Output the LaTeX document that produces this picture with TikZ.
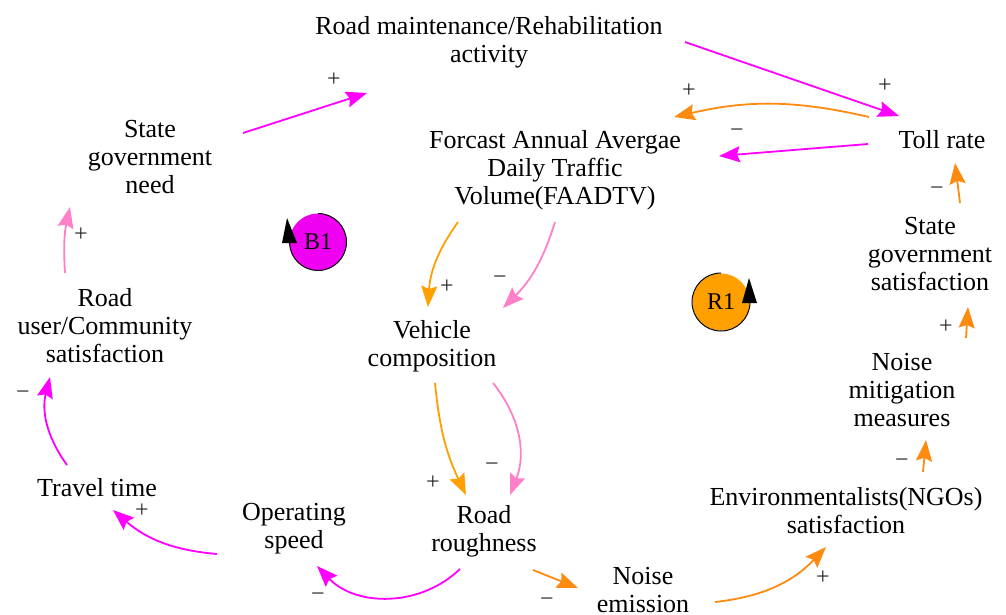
\documentclass[tikz,border=0pt]{standalone}
\usepackage{fontspec}
\setmainfont{Liberation Serif}
\usetikzlibrary{arrows.meta}
\definecolor{mag}{HTML}{FF00FF}
\definecolor{org}{HTML}{FF8A10}
\definecolor{orl}{HTML}{FFA000}
\definecolor{pnk}{HTML}{FF80C8}
\definecolor{loopor}{HTML}{FF9F00}
\definecolor{loopmg}{HTML}{F000F0}
\begin{document}
\begin{tikzpicture}[x=1pt,y=-1pt,
  var/.style={align=center, inner sep=0pt, font=\fontsize{26}{28}\selectfont},
  polarity/.style={inner sep=0pt, text=black!85, font=\fontsize{24}{24}\selectfont},
  link/.style={line width=1.8pt, -{Stealth[length=21pt,width=16pt,inset=3pt]}},
  loopc/.style={circle, minimum size=57pt, inner sep=0pt, font=\fontsize{24}{24}\selectfont},
  loopedge/.style={line width=1pt, black}]
\useasboundingbox (0,0) rectangle (1006,614);

% variables
\node[var] (rm)   at (489,42)  {Road maintenance/Rehabilitation\\activity};
\node[var] (toll) at (942,140) {Toll rate};
\node[var] (fa)   at (555,170) {Forcast Annual Avergae\\Daily Traffic\\Volume(FAADTV)};
\node[var] (sgn)  at (150,157) {State\\government\\need};
\node[var] (sgs)  at (930,254) {State\\government\\satisfaction};
\node[var] (ruc)  at (105,326) {Road\\user/Community\\satisfaction};
\node[var] (vc)   at (432,346) {Vehicle\\composition};
\node[var] (nmm)  at (902,390) {Noise\\mitigation\\measures};
\node[var] (tt)   at (97,488)  {Travel time};
\node[var] (os)   at (294,529) {Operating\\speed};
\node[var] (rr)   at (484,531) {Road\\roughness};
\node[var] (env)  at (846,511) {Environmentalists(NGOs)\\satisfaction};
\node[var] (ne)   at (643,590) {Noise\\emission};

% loop markers
\node[loopc, fill=loopmg] (b1) at (318,242) {B1};
\draw[loopedge] ([shift={(0,-28.5)}]b1.center) arc[start angle=-90, end angle=178, radius=28.5];
\fill[black] ([shift={(-36,1)}]b1.center) -- ([shift={(-21,1)}]b1.center) -- ([shift={(-31,-24)}]b1.center) -- cycle;

\node[loopc, fill=loopor] (r1) at (721,302) {R1};
\draw[loopedge] ([shift={(0,-29)}]r1.center) arc[start angle=-90, end angle=-358, radius=29];
\fill[black] ([shift={(21,1)}]r1.center) -- ([shift={(36,1)}]r1.center) -- ([shift={(28,-24)}]r1.center) -- cycle;

% causal links
\draw[link, mag] ([shift={(93,-24)}]sgn.center) -- ([shift={(-122,51)}]rm.center);
\draw[link, mag] ([shift={(196,0)}]rm.center) -- ([shift={(-43,-24)}]toll.center);
\draw[link, org] ([shift={(-73,-23)}]toll.center) to[bend right=13] ([shift={(119,-53)}]fa.center);
\draw[link, mag] ([shift={(-74,4)}]toll.center) -- ([shift={(164,-14)}]fa.center);
\draw[link, org] ([shift={(30,-51)}]sgs.center) -- ([shift={(13,23)}]toll.center);
\draw[link, org] ([shift={(64,-52)}]nmm.center) -- ([shift={(38,53)}]sgs.center);
\draw[link, org] ([shift={(77,-39)}]env.center) -- ([shift={(24,50)}]nmm.center);
\draw[link, org] ([shift={(72,12)}]ne.center) to[bend right=20] ([shift={(-20,36)}]env.center);
\draw[link, org] ([shift={(49,39)}]rr.center) -- ([shift={(-65,-2)}]ne.center);
\draw[link, mag] ([shift={(-24,38)}]rr.center) to[bend left=45] ([shift={(23,37)}]os.center);
\draw[link, mag] ([shift={(-77,25)}]os.center) to[bend left=18] ([shift={(16,22)}]tt.center);
\draw[link, mag] ([shift={(-30,-23)}]tt.center) to[bend left=25] ([shift={(-55,51)}]ruc.center);
\draw[link, pnk] ([shift={(-40,-53)}]ruc.center) to[bend left=8] ([shift={(-80,50)}]sgn.center);
\draw[link, orl] ([shift={(-97,52)}]fa.center) to[bend right=16] ([shift={(-4,-39)}]vc.center);
\draw[link, pnk] ([shift={(0,52)}]fa.center) to[bend left=14] ([shift={(71,-38)}]vc.center);
\draw[link, orl] ([shift={(3,37)}]vc.center) to[bend right=10] ([shift={(-18,-36)}]rr.center);
\draw[link, pnk] ([shift={(61,37)}]vc.center) to[bend left=30] ([shift={(26,-36)}]rr.center);

% link polarities
\node[polarity] (p1)  at (334,80)  {+};
\node[polarity] (p2)  at (885,86)  {+};
\node[polarity] (p3)  at (689,91)  {+};
\node[polarity] (m4)  at (737,133) {−};
\node[polarity] (m5)  at (937,191) {−};
\node[polarity] (p6)  at (946,327) {+};
\node[polarity] (m7)  at (902,463) {−};
\node[polarity] (p8)  at (823,578) {+};
\node[polarity] (m9)  at (547,602) {−};
\node[polarity] (m10) at (318,597) {−};
\node[polarity] (p11) at (142,511) {+};
\node[polarity] (m12) at (23,395)  {−};
\node[polarity] (p13) at (81,235)  {+};
\node[polarity] (p14) at (447,287) {+};
\node[polarity] (m15) at (500,280) {−};
\node[polarity] (p16) at (433,483) {+};
\node[polarity] (m17) at (492,467) {−};
\end{tikzpicture}
\end{document}
